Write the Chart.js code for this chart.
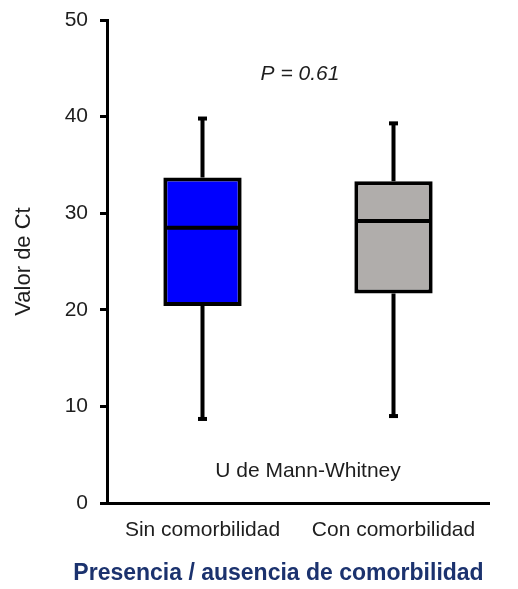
<!DOCTYPE html>
<html><head><meta charset="utf-8">
<script src="https://cdn.jsdelivr.net/npm/chart.js@4/dist/chart.umd.min.js"></script>
<style>html,body{margin:0;padding:0;background:#fff;overflow:hidden}</style>
</head><body>
<canvas id="c" width="518" height="589"></canvas>
<script>
const categories = ['Sin comorbilidad', 'Con comorbilidad'];
const whiskerMin = [8.7, 9.0];
const q1 = [20.4, 21.7];
const median = [28.5, 29.2];
const q3 = [33.7, 33.3];
const whiskerMax = [39.8, 39.3];
const boxColors = ['#0000ff', '#b0adab'];
const yTickValues = [0, 10, 20, 30, 40, 50];
const pText = 'P = 0.61';
const testText = 'U de Mann-Whitney';
const yTitle = 'Valor de Ct';
const xTitle = 'Presencia / ausencia de comorbilidad';

const FONT = "'Liberation Sans', Arial, sans-serif";

const boxPlot = {
  id: 'boxPlot',
  afterDatasetsDraw(chart) {
    const {ctx, scales: {x, y}} = chart;
    const bars = chart.getDatasetMeta(0).data;
    ctx.save();
    ctx.strokeStyle = '#000';
    ctx.fillStyle = '#000';
    ctx.lineWidth = 4;
    categories.forEach((c, i) => {
      const cx = x.getPixelForValue(i);
      const half = bars[i].width / 2;
      const yTop = y.getPixelForValue(whiskerMax[i]);
      const yBot = y.getPixelForValue(whiskerMin[i]);
      const yQ3 = y.getPixelForValue(q3[i]);
      const yQ1 = y.getPixelForValue(q1[i]);
      const yMed = y.getPixelForValue(median[i]);
      ctx.beginPath();
      ctx.moveTo(cx, yQ3); ctx.lineTo(cx, yTop);
      ctx.moveTo(cx, yQ1); ctx.lineTo(cx, yBot);
      ctx.stroke();
      ctx.fillRect(cx - 4.5, yTop - 2, 9, 4);
      ctx.fillRect(cx - 4.5, yBot - 2, 9, 4);
      ctx.beginPath();
      ctx.moveTo(cx - half + 1, yMed); ctx.lineTo(cx + half - 1, yMed);
      ctx.stroke();
    });
    ctx.restore();
  },
  afterDraw(chart) {
    const {ctx, chartArea, scales: {y}} = chart;
    const mid = (chartArea.left + chartArea.right) / 2;
    ctx.save();
    ctx.textAlign = 'center';
    ctx.textBaseline = 'alphabetic';
    ctx.fillStyle = '#1e1e1e';
    ctx.font = 'italic 21px ' + FONT;
    ctx.fillText(pText, mid + 2, y.getPixelForValue(43.8));
    ctx.font = '21px ' + FONT;
    ctx.fillText(testText, mid + 10, y.getPixelForValue(2.7));
    ctx.font = 'bold 23px ' + FONT;
    ctx.fillStyle = '#1b326e';
    ctx.fillText(xTitle, 278.5, 580);
    ctx.restore();
  }
};

new Chart(document.getElementById('c'), {
  type: 'bar',
  data: {
    labels: categories,
    datasets: [{
      data: categories.map((_, i) => [q1[i], q3[i]]),
      backgroundColor: boxColors,
      borderColor: '#000',
      borderWidth: 4,
      borderSkipped: false,
      barPercentage: 0.41,
      categoryPercentage: 1
    }]
  },
  options: {
    responsive: false,
    animation: false,
    devicePixelRatio: 1,
    layout: {padding: {left: 0, right: 29, top: 20, bottom: 0}},
    plugins: {legend: {display: false}, tooltip: {enabled: false}},
    scales: {
      x: {
        grid: {display: false},
        border: {display: true, color: '#000', width: 3},
        ticks: {color: '#1e1e1e', font: {family: FONT, size: 21}, padding: 7},
        afterFit: s => { s.height = 86; }
      },
      y: {
        min: 0, max: 50,
        afterBuildTicks: s => { s.ticks = yTickValues.map(v => ({value: v})); },
        grid: {display: true, drawOnChartArea: false, drawTicks: true, tickLength: 7, tickWidth: 3, tickColor: '#000'},
        border: {display: true, color: '#000', width: 3},
        ticks: {color: '#1e1e1e', font: {family: FONT, size: 21}, padding: 12},
        title: {display: true, text: yTitle, color: '#1e1e1e', font: {family: FONT, size: 22}, padding: {top: 11, bottom: 0}},
        afterFit: s => { s.width = 107; s.paddingTop = 0; s.paddingBottom = 0; }
      }
    }
  },
  plugins: [boxPlot]
});
</script>
</body></html>
